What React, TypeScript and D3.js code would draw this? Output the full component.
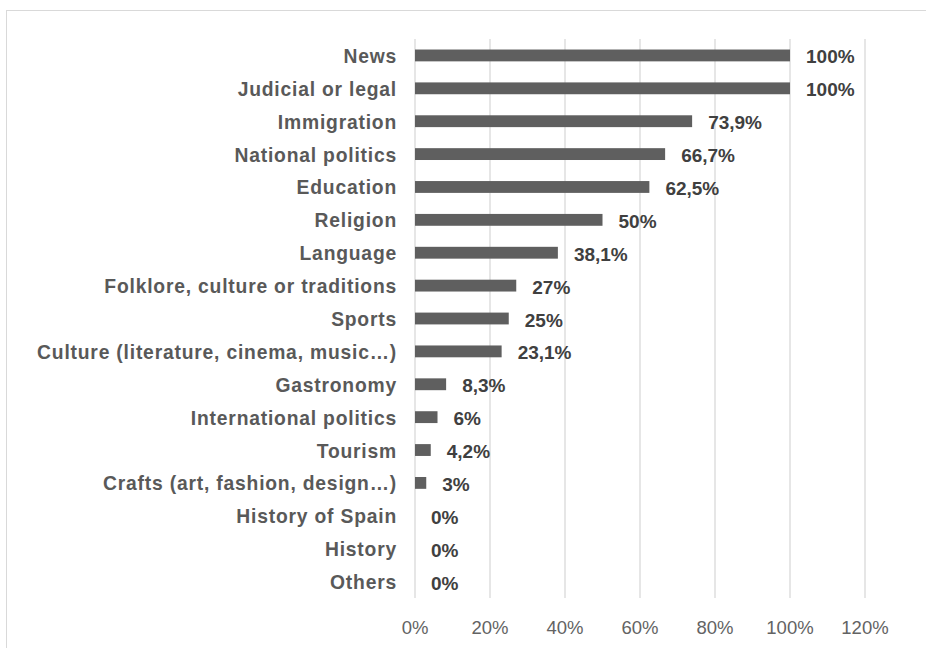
import React from "react";
import * as d3 from "d3";

const categories = [
  "News",
  "Judicial or legal",
  "Immigration",
  "National politics",
  "Education",
  "Religion",
  "Language",
  "Folklore, culture or traditions",
  "Sports",
  "Culture (literature, cinema, music…)",
  "Gastronomy",
  "International politics",
  "Tourism",
  "Crafts (art, fashion, design…)",
  "History of Spain",
  "History ",
  "Others",
];
const values = [100, 100, 73.9, 66.7, 62.5, 50, 38.1, 27, 25, 23.1, 8.3, 6, 4.2, 3, 0, 0, 0];
const valueLabels = ["100%", "100%", "73,9%", "66,7%", "62,5%", "50%", "38,1%", "27%", "25%", "23,1%", "8,3%", "6%", "4,2%", "3%", "0%", "0%", "0%"];
const ticks = [0, 20, 40, 60, 80, 100, 120];

const W = 926;
const H = 648;
const FONT = "'Liberation Sans', Arial, sans-serif";

export default function App() {
  const x = d3.scaleLinear().domain([0, 120]).range([415, 865]);
  const y = d3
    .scaleBand<string>()
    .domain(categories)
    .range([39, 598])
    .paddingInner(0.64)
    .paddingOuter(0.32);
  const bh = y.bandwidth();

  return (
    <svg
      width={W}
      height={H}
      style={{ position: "absolute", left: 0, top: 0, background: "#fff" }}
    >
      <rect x={6.5} y={10.5} width={W + 20} height={H + 20} fill="#fff" stroke="#d9d9d9" strokeWidth={1} />
      {ticks.map((t) => (
        <line
          key={"g" + t}
          x1={x(t)}
          x2={x(t)}
          y1={39}
          y2={598}
          stroke="#d9d9d9"
          strokeWidth={1.3}
        />
      ))}
      {ticks.map((t) => (
        <text
          key={"t" + t}
          x={x(t)}
          y={627}
          textAnchor="middle"
          dominantBaseline="central"
          fontFamily={FONT}
          fontSize={18.5}
          fill="#636363"
        >
          {t + "%"}
        </text>
      ))}
      {categories.map((c, i) => {
        const yc = (y(c) as number) + bh / 2;
        return (
          <g key={c + i}>
            {values[i] > 0 && (
              <rect x={x(0)} y={y(c) as number} width={x(values[i]) - x(0)} height={bh} fill="#5f5f5f" />
            )}
            <text
              x={397}
              y={yc + 1}
              textAnchor="end"
              dominantBaseline="central"
              fontFamily={FONT}
              fontSize={19.3}
              letterSpacing={0.8}
              fontWeight="bold"
              fill="#595959"
            >
              {c}
            </text>
            <text
              x={x(values[i]) + 16}
              y={yc + 1.5}
              dominantBaseline="central"
              fontFamily={FONT}
              fontSize={19}
              fontWeight="bold"
              fill="#404040"
            >
              {valueLabels[i]}
            </text>
          </g>
        );
      })}
    </svg>
  );
}
